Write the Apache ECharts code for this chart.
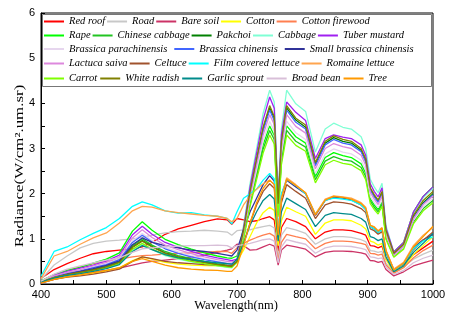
<!DOCTYPE html>
<html>
<head>
<meta charset="utf-8">
<script src="https://cdn.jsdelivr.net/npm/echarts@6/dist/echarts.min.js"></script>
<style>
  html, body { margin: 0; padding: 0; background: #fff; }
  #chart { width: 453px; height: 315px; }
</style>
</head>
<body>
<div id="chart"></div>
<script>
// wavelength samples (nm)
var wavelength = [400,420,440,460,480,500,520,540,555,570,590,610,630,650,670,685,692,
  700,710,720,730,740,750,757,763,768,776,790,805,820,835,848,862,875,890,897,904,910,916,922,928,940,955,970,985,1000];

// radiance, one array per class
var redRoof = [0.12,0.32,0.45,0.57,0.67,0.72,0.75,0.78,0.82,0.92,1.1,1.22,1.3,1.38,1.44,1.42,1.32,
  1.45,1.42,1.38,1.4,1.45,1.49,1.42,0.72,1.25,1.45,1.38,1.27,1.0,1.15,1.2,1.2,1.18,1.12,1.08,0.85,0.84,0.8,0.84,0.55,0.32,0.45,0.65,0.8,0.95];
var road = [0.1,0.42,0.62,0.8,0.9,0.95,0.97,1.0,1.03,1.08,1.13,1.16,1.17,1.19,1.17,1.15,1.08,
  1.18,1.2,1.2,1.24,1.27,1.3,1.24,0.6,1.08,1.25,1.2,1.12,0.88,1.0,1.05,1.05,1.03,0.98,0.94,0.74,0.73,0.7,0.72,0.46,0.26,0.38,0.55,0.66,0.75];
var bareSoil = [0.02,0.1,0.17,0.22,0.26,0.3,0.35,0.42,0.47,0.5,0.53,0.56,0.6,0.64,0.7,0.75,0.78,
  0.88,0.85,0.75,0.76,0.82,0.88,0.84,0.42,0.75,0.86,0.82,0.77,0.6,0.7,0.73,0.73,0.72,0.69,0.66,0.52,0.51,0.48,0.5,0.32,0.18,0.27,0.4,0.47,0.53];
var cotton = [0.03,0.11,0.16,0.2,0.24,0.29,0.36,0.52,0.6,0.55,0.48,0.44,0.42,0.41,0.4,0.38,0.38,
  0.5,0.75,1.05,1.35,1.58,1.7,1.63,0.85,1.4,1.7,1.6,1.5,1.1,1.35,1.42,1.42,1.4,1.3,1.22,0.95,0.92,0.86,0.9,0.55,0.25,0.37,0.65,0.85,1.05];
var cottonFirewood = [0.04,0.18,0.3,0.38,0.45,0.5,0.55,0.6,0.63,0.64,0.66,0.68,0.69,0.7,0.72,0.72,0.68,
  0.8,0.9,0.97,1.03,1.08,1.12,1.06,0.52,0.92,1.1,1.05,1.0,0.78,0.9,0.95,0.95,0.94,0.9,0.87,0.68,0.67,0.64,0.66,0.42,0.24,0.36,0.58,0.74,0.86];
var rape = [0.07,0.21,0.3,0.37,0.46,0.55,0.69,1.17,1.38,1.19,0.99,0.87,0.77,0.69,0.62,0.58,0.57,
  0.62,1.05,1.82,2.45,3.08,3.5,3.29,1.58,2.8,3.5,3.26,3.12,2.38,2.8,2.91,2.84,2.8,2.66,2.45,1.89,1.75,1.65,1.82,1.05,0.71,0.92,1.59,1.94,2.15];
var chineseCabbage = [0.05,0.15,0.22,0.27,0.33,0.4,0.5,0.85,1.0,0.86,0.72,0.63,0.56,0.5,0.45,0.42,0.41,
  0.5,1.02,1.77,2.38,2.99,3.4,3.2,1.53,2.72,3.4,3.16,3.03,2.31,2.72,2.82,2.75,2.72,2.58,2.38,1.84,1.7,1.6,1.77,1.02,0.61,0.8,1.37,1.67,1.85];
var pakchoi = [0.05,0.14,0.21,0.26,0.32,0.38,0.48,0.82,0.96,0.83,0.69,0.6,0.54,0.48,0.43,0.4,0.39,
  0.5,1.17,2.03,2.73,3.43,3.9,3.67,1.76,3.12,3.9,3.63,3.47,2.65,3.12,3.24,3.16,3.12,2.96,2.73,2.11,1.95,1.83,2.03,1.17,0.66,0.86,1.48,1.8,2.0];
var cabbage = [0.04,0.13,0.19,0.24,0.29,0.35,0.44,0.75,0.88,0.76,0.63,0.55,0.49,0.44,0.4,0.37,0.36,
  0.5,1.29,2.23,3.0,3.78,4.29,4.03,1.93,3.43,4.29,3.99,3.82,2.92,3.43,3.56,3.47,3.43,3.26,3.0,2.32,2.15,2.02,2.23,1.29,0.7,0.91,1.57,1.91,2.12];
var tuberMustard = [0.06,0.19,0.28,0.35,0.42,0.51,0.64,1.09,1.28,1.1,0.92,0.81,0.72,0.64,0.58,0.54,0.52,
  0.55,1.24,2.15,2.9,3.64,4.14,3.89,1.86,3.31,4.03,3.8,3.62,2.78,3.22,3.3,3.25,3.22,3.08,2.85,2.22,2.05,1.93,2.13,1.24,0.71,0.92,1.59,1.94,2.15];
var brassicaParachinensis = [0.06,0.17,0.25,0.3,0.37,0.45,0.56,0.95,1.12,0.96,0.81,0.71,0.63,0.56,0.5,0.47,0.46,
  0.5,1.08,1.87,2.52,3.17,3.6,3.38,1.62,2.88,3.6,3.35,3.2,2.45,2.88,2.99,2.92,2.88,2.74,2.52,1.94,1.8,1.69,1.87,1.08,0.63,0.82,1.41,1.71,1.9];
var brassicaChinensis = [0.05,0.16,0.24,0.29,0.36,0.43,0.54,0.92,1.08,0.93,0.78,0.68,0.6,0.54,0.49,0.45,0.44,
  0.5,1.16,2.0,2.7,3.39,3.85,3.62,1.73,3.08,3.85,3.58,3.43,2.62,3.08,3.2,3.12,3.08,2.93,2.7,2.08,1.93,1.81,2.0,1.16,0.65,0.85,1.46,1.77,1.97];
var smallBrassica = [0.05,0.15,0.22,0.28,0.34,0.41,0.51,0.87,1.02,0.92,0.85,0.8,0.75,0.72,0.68,0.64,0.62,
  0.75,1.2,1.6,1.9,2.2,2.4,2.28,1.13,1.97,2.3,2.15,2.0,1.52,1.85,1.92,1.9,1.86,1.75,1.65,1.27,1.22,1.14,1.21,0.72,0.32,0.45,0.8,0.98,1.1];
var lactucaSaiva = [0.06,0.18,0.26,0.32,0.4,0.48,0.6,1.02,1.2,1.03,0.86,0.76,0.67,0.6,0.54,0.5,0.49,
  0.52,1.13,1.95,2.63,3.3,3.75,3.53,1.69,3.0,3.75,3.49,3.34,2.55,3.0,3.11,3.04,3.0,2.85,2.63,2.03,1.88,1.76,1.95,1.13,0.64,0.84,1.44,1.76,1.95];
var celtuce = [0.03,0.1,0.15,0.18,0.22,0.27,0.33,0.5,0.6,0.56,0.5,0.47,0.45,0.43,0.42,0.41,0.4,
  0.5,0.9,1.35,1.75,2.05,2.22,2.12,1.05,1.8,2.2,2.05,1.9,1.45,1.75,1.82,1.8,1.77,1.67,1.58,1.22,1.18,1.1,1.16,0.7,0.29,0.43,0.76,0.97,1.15];
var filmLettuce = [0.17,0.72,0.82,0.98,1.12,1.25,1.45,1.72,1.82,1.75,1.62,1.57,1.58,1.53,1.5,1.45,1.33,
  1.6,1.9,2.0,2.1,2.3,2.45,2.33,1.15,2.0,2.32,2.18,2.0,1.55,1.85,1.9,1.88,1.85,1.75,1.65,1.27,1.22,1.14,1.2,0.72,0.3,0.45,0.78,0.95,1.05];
var romaineLettuce = [0.12,0.62,0.72,0.88,1.02,1.13,1.35,1.62,1.72,1.7,1.62,1.58,1.55,1.52,1.5,1.45,1.38,
  1.45,1.75,1.95,2.1,2.22,2.3,2.2,1.1,1.9,2.35,2.2,2.02,1.55,1.88,1.95,1.93,1.9,1.8,1.7,1.3,1.27,1.18,1.25,0.75,0.33,0.48,0.85,1.08,1.25];
var carrot = [0.05,0.14,0.2,0.24,0.3,0.36,0.45,0.77,0.9,0.77,0.65,0.57,0.5,0.45,0.41,0.38,0.37,
  0.48,0.99,1.72,2.31,2.9,3.3,3.1,1.49,2.64,3.3,3.07,2.94,2.24,2.64,2.74,2.67,2.64,2.51,2.31,1.78,1.65,1.55,1.72,0.99,0.59,0.77,1.33,1.62,1.8];
var whiteRadish = [0.05,0.14,0.21,0.26,0.31,0.38,0.48,0.81,0.95,0.82,0.68,0.6,0.53,0.48,0.43,0.4,0.39,
  0.5,1.19,2.05,2.77,3.48,3.95,3.71,1.78,3.16,3.95,3.67,3.52,2.69,3.16,3.28,3.2,3.16,3.0,2.77,2.13,1.98,1.86,2.05,1.19,0.68,0.88,1.52,1.85,2.05];
var garlicSprout = [0.04,0.13,0.19,0.23,0.28,0.34,0.43,0.72,0.85,0.76,0.65,0.58,0.54,0.5,0.47,0.45,0.44,
  0.55,0.9,1.3,1.6,1.85,1.98,1.88,0.95,1.6,1.9,1.78,1.65,1.27,1.52,1.58,1.56,1.54,1.45,1.37,1.05,1.02,0.96,1.0,0.6,0.27,0.4,0.7,0.9,1.12];
var broadBean = [0.06,0.22,0.33,0.4,0.47,0.53,0.58,0.7,0.78,0.8,0.82,0.84,0.85,0.85,0.86,0.85,0.8,
  0.85,0.87,0.9,0.94,0.98,1.0,0.95,0.47,0.82,0.98,0.93,0.88,0.68,0.8,0.84,0.84,0.83,0.79,0.76,0.6,0.59,0.56,0.58,0.37,0.21,0.3,0.47,0.57,0.64];
var tree = [0.02,0.1,0.16,0.2,0.25,0.3,0.36,0.5,0.56,0.5,0.42,0.36,0.33,0.31,0.3,0.28,0.28,
  0.4,0.85,1.35,1.8,2.12,2.3,2.2,1.08,1.88,2.32,2.18,2.02,1.53,1.86,1.94,1.92,1.88,1.78,1.68,1.3,1.26,1.17,1.24,0.74,0.31,0.46,0.82,1.05,1.28];

var classes = [
  { name: 'Red roof', values: redRoof, color: '#ff0000' },
  { name: 'Road', values: road, color: '#c8c8c8' },
  { name: 'Bare soil', values: bareSoil, color: '#cc3366' },
  { name: 'Cotton', values: cotton, color: '#ffff00' },
  { name: 'Cotton firewood', values: cottonFirewood, color: '#ff7f50' },
  { name: 'Rape', values: rape, color: '#00ff00' },
  { name: 'Chinese cabbage', values: chineseCabbage, color: '#22c422' },
  { name: 'Pakchoi', values: pakchoi, color: '#008000' },
  { name: 'Cabbage', values: cabbage, color: '#7fffd4' },
  { name: 'Tuber mustard', values: tuberMustard, color: '#a020f0' },
  { name: 'Brassica parachinensis', values: brassicaParachinensis, color: '#e6d6ee' },
  { name: 'Brassica chinensis', values: brassicaChinensis, color: '#4166ff' },
  { name: 'Small brassica chinensis', values: smallBrassica, color: '#303399' },
  { name: 'Lactuca saiva', values: lactucaSaiva, color: '#dd88dd' },
  { name: 'Celtuce', values: celtuce, color: '#a0522d' },
  { name: 'Film covered lettuce', values: filmLettuce, color: '#00ffff' },
  { name: 'Romaine lettuce', values: romaineLettuce, color: '#ffa54f' },
  { name: 'Carrot', values: carrot, color: '#7fff00' },
  { name: 'White radish', values: whiteRadish, color: '#808000' },
  { name: 'Garlic sprout', values: garlicSprout, color: '#008b8b' },
  { name: 'Broad bean', values: broadBean, color: '#d8bfd8' },
  { name: 'Tree', values: tree, color: '#ff9900' }
];

var legendRows = [
  ['Red roof', 'Road', 'Bare soil', 'Cotton', 'Cotton firewood'],
  ['Rape', 'Chinese cabbage', 'Pakchoi', 'Cabbage', 'Tuber mustard'],
  ['Brassica parachinensis', 'Brassica chinensis', 'Small brassica chinensis'],
  ['Lactuca saiva', 'Celtuce', 'Film covered lettuce', 'Romaine lettuce'],
  ['Carrot', 'White radish', 'Garlic sprout', 'Broad bean', 'Tree']
];
var rowTops = [16, 30, 43.5, 58, 73];
var rowGaps = [2, 2, 7, 2, 3];

var chart = echarts.init(document.getElementById('chart'));

var legendTextStyle = {
  fontFamily: 'Liberation Serif',
  fontStyle: 'italic',
  fontSize: 10.5,
  color: '#000'
};

var option = {
  animation: false,
  grid: {
    left: 41, right: 20, top: 13, bottom: 31,
    show: true, borderColor: '#000', borderWidth: 1
  },
  legend: legendRows.map(function (row, i) {
    return {
      data: row,
      left: 44,
      top: rowTops[i],
      padding: 0,
      icon: 'rect',
      itemWidth: 20,
      itemHeight: 2,
      itemGap: rowGaps[i],
      selectedMode: false,
      textStyle: legendTextStyle
    };
  }),
  xAxis: {
    type: 'value',
    min: 400, max: 1000, interval: 100,
    axisLine: { lineStyle: { color: '#000', width: 1 } },
    axisTick: { inside: true, length: 4, lineStyle: { color: '#000' } },
    minorTick: { show: true, splitNumber: 2, length: 4, lineStyle: { color: '#000' } },
    splitLine: { show: false },
    axisLabel: {
      color: '#000', fontSize: 11, margin: 5,
      fontFamily: "'Liberation Sans Narrow', 'Liberation Sans', Arial, sans-serif",
      formatter: function (v) { return String(v); }
    }
  },
  yAxis: {
    type: 'value',
    min: 0, max: 6, interval: 1,
    axisLine: { show: true, lineStyle: { color: '#000', width: 1 } },
    axisTick: { show: true, inside: true, length: 4, lineStyle: { color: '#000' } },
    minorTick: { show: true, splitNumber: 2, length: 4, lineStyle: { color: '#000' } },
    splitLine: { show: false },
    axisLabel: {
      color: '#000', fontSize: 11, margin: 6,
      fontFamily: "'Liberation Sans Narrow', 'Liberation Sans', Arial, sans-serif"
    }
  },
  graphic: [
    {
      type: 'rect',
      z: 3,
      shape: { x: 42.5, y: 14.5, width: 389, height: 72 },
      style: { fill: '#fff', stroke: '#777', lineWidth: 1 }
    },
    {
      type: 'text',
      x: 20, y: 166,
      rotation: Math.PI / 2,
      scaleX: 1.35,
      style: {
        text: 'Radiance(W/cm\u00b2.um.sr)',
        fontFamily: 'Liberation Serif',
        fontSize: 12.5,
        fill: '#000',
        align: 'center',
        verticalAlign: 'middle'
      }
    },
    {
      type: 'text',
      x: 236, y: 306,
      style: {
        text: 'Wavelength(nm)',
        fontFamily: 'Liberation Serif',
        fontSize: 12.5,
        fill: '#000',
        align: 'center',
        verticalAlign: 'middle'
      }
    }
  ],
  series: classes.map(function (c) {
    return {
      name: c.name,
      type: 'line',
      symbol: 'none',
      smooth: false,
      color: c.color,
      lineStyle: { width: 1.3, color: c.color },
      emphasis: { disabled: true },
      data: wavelength.map(function (w, i) { return [w, c.values[i]]; })
    };
  })
};

chart.setOption(option);
</script>
</body>
</html>
